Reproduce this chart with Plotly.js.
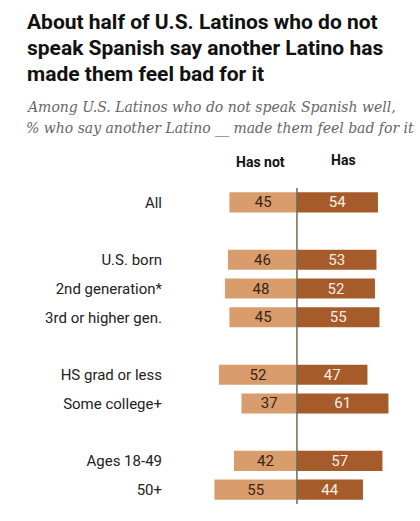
<!DOCTYPE html>
<html>
<head>
<meta charset="utf-8">
<script src="https://cdn.plot.ly/plotly-3.0.1.min.js"></script>
<style>
  html, body { margin: 0; padding: 0; background: #fff; }
  #chart { width: 420px; height: 521px; }
</style>
</head>
<body>
<div id="chart"></div>
<script>
// groups of rows, a blank slot is left between groups
var groups = [
    ["All"],
    ["U.S. born", "2nd generation*", "3rd or higher gen."],
    ["HS grad or less", "Some college+"],
    ["Ages 18-49", "50+"]
];
var hasNot = [45, 46, 48, 45, 52, 37, 42, 55];
var has    = [54, 53, 52, 55, 47, 61, 57, 44];

var titleLines = [
    "About half of U.S. Latinos who do not",
    "speak Spanish say another Latino has",
    "made them feel bad for it"
];
var subtitleLines = [
    "Among U.S. Latinos who do not speak Spanish well,",
    "% who say another Latino __ made them feel bad for it"
];

var lightColor = "#d99c6d";
var darkColor = "#a65b2b";

var labels = [];
var slots = [];
var pos = 0;
groups.forEach(function (g, gi) {
    if (gi > 0) pos += 1;
    g.forEach(function (name) {
        labels.push(name);
        slots.push(pos);
        pos += 1;
    });
});

var traceNot = {
    type: "bar",
    orientation: "h",
    y: slots,
    x: hasNot.map(v => -v),
    customdata: hasNot,
    texttemplate: "%{customdata}",
    textposition: "inside",
    insidetextanchor: "middle",
    textangle: 0,
    constraintext: "none",
    textfont: { family: "Roboto, sans-serif", size: 15, color: "#3b2414" },
    marker: { color: lightColor },
    width: 0.7,
    hoverinfo: "none"
};
var traceHas = {
    type: "bar",
    orientation: "h",
    y: slots,
    x: has,
    texttemplate: "%{x}",
    textposition: "inside",
    insidetextanchor: "middle",
    textangle: 0,
    constraintext: "none",
    textfont: { family: "Roboto, sans-serif", size: 15, color: "#fbeee2" },
    marker: { color: darkColor },
    width: 0.7,
    hoverinfo: "none"
};

var plotLeft = 166, plotW = 249, plotTop = 188;
var annots = [];
titleLines.forEach(function (t, i) {
    annots.push({
        text: "<b>" + t + "</b>",
        xref: "paper", yref: "paper",
        x: (25 - plotLeft) / plotW, y: 1,
        xanchor: "left", yanchor: "middle",
        yshift: plotTop - (22 + 26 * i),
        showarrow: false,
        font: { family: "Roboto, sans-serif", size: 21, color: "#111" }
    });
});
subtitleLines.forEach(function (t, i) {
    annots.push({
        text: "<i>" + t + "</i>",
        xref: "paper", yref: "paper",
        x: (24 - plotLeft) / plotW, y: 1,
        xanchor: "left", yanchor: "middle",
        yshift: plotTop - (107 + 21 * i),
        showarrow: false,
        font: { family: "DejaVu Serif, serif", size: 14, color: "#666" }
    });
});
annots.push({
    text: "<b>Has not</b>",
    xref: "x", yref: "paper",
    x: -24, y: 1, yanchor: "middle", yshift: plotTop - 162,
    showarrow: false,
    font: { family: "Roboto, sans-serif", size: 14, color: "#111" }
});
annots.push({
    text: "<b>Has</b>",
    xref: "x", yref: "paper",
    x: 31, y: 1, yanchor: "middle", yshift: plotTop - 160,
    showarrow: false,
    font: { family: "Roboto, sans-serif", size: 14, color: "#111" }
});

var layout = {
    width: 420,
    height: 521,
    margin: { l: plotLeft, r: 420 - plotLeft - plotW, t: plotTop, b: 17 },
    paper_bgcolor: "#fff",
    plot_bgcolor: "#fff",
    barmode: "relative",
    showlegend: false,
    xaxis: {
        range: [-87.3, 78.7],
        showgrid: false,
        zeroline: false,
        showticklabels: false,
        ticks: "",
        fixedrange: true
    },
    yaxis: {
        range: [pos - 0.5, -0.5],
        tickvals: slots,
        ticktext: labels,
        showgrid: false,
        zeroline: false,
        ticks: "",
        ticklabelstandoff: 3,
        tickfont: { family: "Roboto, sans-serif", size: 15, color: "#222" },
        fixedrange: true
    },
    shapes: [{
        type: "line",
        xref: "x", yref: "paper",
        x0: 0, x1: 0, y0: 0, y1: 1,
        line: { color: "#6e6c52", width: 1.5 },
        layer: "above"
    }],
    annotations: annots
};

Plotly.newPlot("chart", [traceNot, traceHas], layout, { displayModeBar: false, staticPlot: true });
</script>
</body>
</html>
